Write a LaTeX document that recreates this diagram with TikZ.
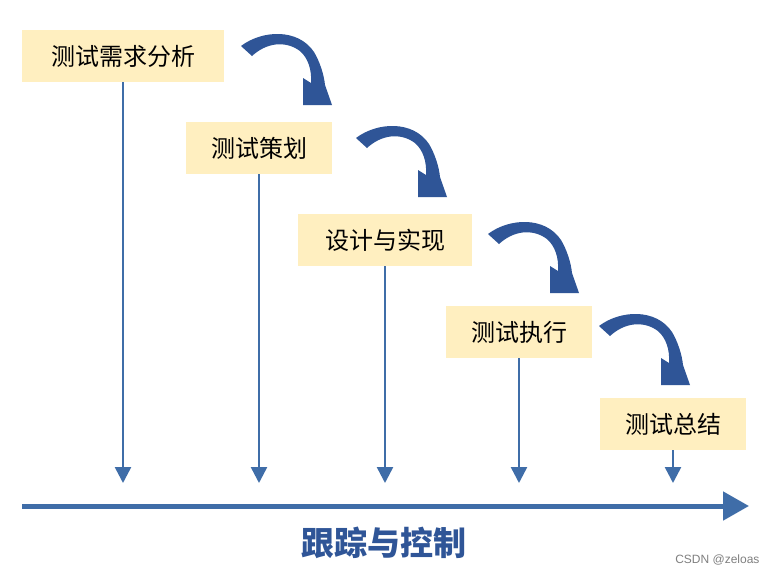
\documentclass[tikz,border=0pt]{standalone}
\usepackage{fontspec}
\newfontfamily\cjk{Noto Sans CJK SC}
\usetikzlibrary{arrows.meta}
\definecolor{boxy}{HTML}{FFEFC0}
\definecolor{linec}{HTML}{3F6DA8}
\definecolor{arrc}{HTML}{2F5597}
\begin{document}
\begin{tikzpicture}[x=1pt,y=-1pt,
  stagebox/.style={fill=boxy, minimum height=52pt, inner sep=0pt, text=black,
    font=\cjk\fontsize{24}{24}\selectfont},
  vline/.style={draw=linec, line width=2.5pt, -{Triangle[width=16pt,length=16pt]}},
  mainline/.style={draw=linec, line width=5pt, -{Triangle[width=28pt,length=26pt]}},
  curvearr/.style={fill=arrc}]
\useasboundingbox (0,0) rectangle (778,574);
\fill[white] (0,0) rectangle (778,574);

\node[stagebox, minimum width=202pt] (b1) at (123,56) {测试需求分析};
\node[stagebox, minimum width=146pt] (b2) at (259,148) {测试策划};
\node[stagebox, minimum width=174pt] (b3) at (385,240) {设计与实现};
\node[stagebox, minimum width=146pt] (b4) at (519,332) {测试执行};
\node[stagebox, minimum width=146pt] (b5) at (673,424) {测试总结};

\coordinate (e1) at (123,483);
\coordinate (e2) at (259,483);
\coordinate (e3) at (385,483);
\coordinate (e4) at (519,483);
\coordinate (e5) at (673,483);
\draw[vline] (b1.south) -- (e1);
\draw[vline] (b2.south) -- (e2);
\draw[vline] (b3.south) -- (e3);
\draw[vline] (b4.south) -- (e4);
\draw[vline] (b5.south) -- (e5);

\coordinate (ms) at (22,506);
\coordinate (me) at (749,506);
\draw[mainline] (ms) -- (me);

\foreach \dx/\dy in {0/0,115/92,247/188,358/280}{
  \fill[curvearr, shift={(\dx,\dy)}] (241,46) .. controls (262,30) and (298,28) .. (314,52)
    .. controls (320,62) and (324,75) .. (325,85) -- (332,105) -- (303,105) -- (303,78)
    -- (311,83) .. controls (312,70) and (308,58) .. (300,51)
    .. controls (285,40) and (266,43) .. (252,56) -- cycle;
}

\node[text=arrc, font=\cjk\bfseries\fontsize{33}{33}\selectfont] (title) at (384,543) {跟踪与控制};
\node[text=gray, font=\fontspec{Liberation Sans}\fontsize{12}{12}\selectfont, anchor=east] (wm) at (763,560) {CSDN @zeloas};
\end{tikzpicture}
\end{document}
